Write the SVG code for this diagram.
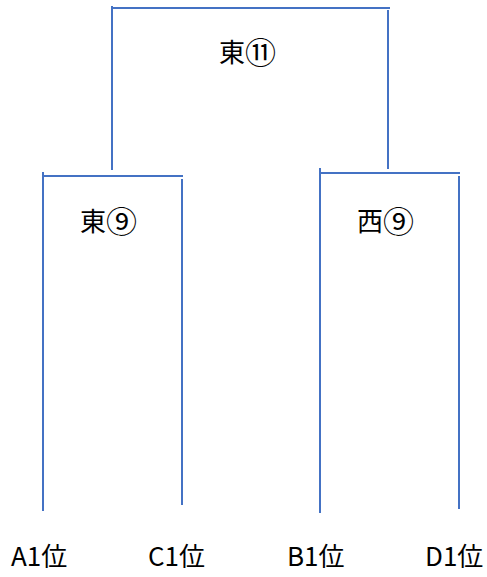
<svg xmlns="http://www.w3.org/2000/svg" width="487" height="577" viewBox="0 0 487 577">
<style>
.ln{stroke:#4472C4;stroke-width:2;fill:none}
.t{font-family:"Noto Sans CJK JP","Noto Sans",sans-serif;font-size:26px;fill:#000}
.c{font-size:31px}
</style>
<rect width="487" height="577" fill="#fff"/>
<g id="connectors">
<line class="ln" x1="112" y1="8" x2="390" y2="8"/>
<line class="ln" x1="112" y1="6" x2="112" y2="170"/>
<line class="ln" x1="388" y1="10" x2="388" y2="169"/>
<line class="ln" x1="43" y1="176" x2="183" y2="176"/>
<line class="ln" x1="43" y1="172" x2="43" y2="511"/>
<line class="ln" x1="182" y1="179" x2="182" y2="505"/>
<line class="ln" x1="319" y1="173" x2="460" y2="173"/>
<line class="ln" x1="320" y1="168" x2="320" y2="513"/>
<line class="ln" x1="459" y1="176" x2="459" y2="509"/>
</g>
<g id="final"><text class="t" x="219" y="62">東<tspan class="c" dy="2">⑪</tspan></text></g>
<g id="semi-east"><text class="t" x="80" y="231">東<tspan class="c" dy="2">⑨</tspan></text></g>
<g id="semi-west"><text class="t" x="357" y="231">西<tspan class="c" dy="2">⑨</tspan></text></g>
<g id="a1"><text class="t" x="11" y="566">A1位</text></g>
<g id="c1"><text class="t" x="148" y="566">C1位</text></g>
<g id="b1"><text class="t" x="287" y="566">B1位</text></g>
<g id="d1"><text class="t" x="425" y="566">D1位</text></g>
</svg>
